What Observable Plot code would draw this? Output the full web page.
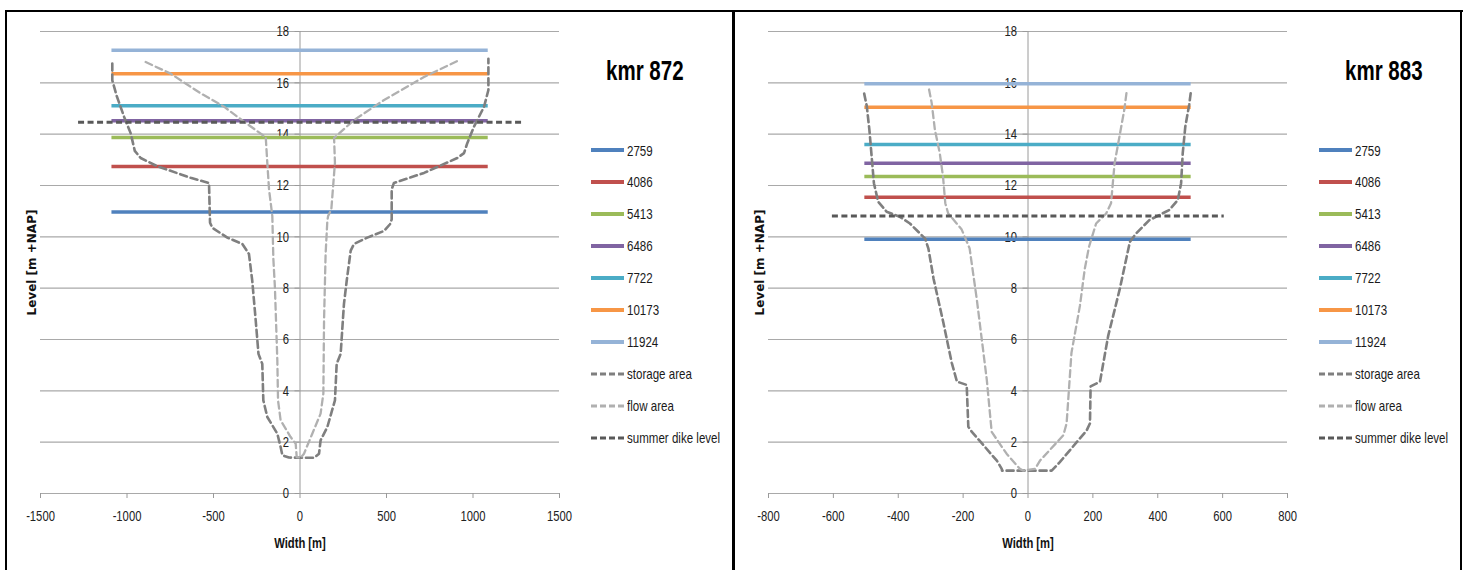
<!DOCTYPE html>
<html><head><meta charset="utf-8">
<script src="https://cdn.jsdelivr.net/npm/d3@7"></script>
<script src="https://cdn.jsdelivr.net/npm/@observablehq/plot@0.6"></script>
<style>
html,body{margin:0;padding:0;background:#fff;}
#root{position:relative;width:1468px;height:570px;overflow:hidden;background:#fff;}
.panel{position:absolute;top:0;}
.frame{position:absolute;background:#000;}
.title{position:absolute;font-family:"Liberation Sans",Arial,sans-serif;font-weight:bold;font-size:27px;line-height:27px;color:#000;white-space:nowrap;transform:scaleX(0.76);transform-origin:0 50%;}
.item{position:absolute;height:20px;display:flex;align-items:center;white-space:nowrap;font-family:"Liberation Sans",Arial,sans-serif;font-size:15px;color:#1a1a1a;}
.item svg{margin-right:3px;flex:none;}
.item span{display:inline-block;transform:scaleX(0.77);transform-origin:0 50%;}
</style></head><body><div id="root"></div>
<script>
// ---------- data ----------
const seriesNames = ["2759", "4086", "5413", "6486", "7722", "10173", "11924"];
const extraNames = ["storage area", "flow area", "summer dike level"];

const yTicks = [0, 2, 4, 6, 8, 10, 12, 14, 16, 18];
const xTicks872 = [-1500, -1000, -500, 0, 500, 1000, 1500];
const xTicks883 = [-800, -600, -400, -200, 0, 200, 400, 600, 800];

// kmr 872
const levels872 = [10.97, 12.74, 13.87, 14.52, 15.11, 16.35, 17.27];
const levelSpan872 = [-1087, 1088];
const dike872 = 14.46;
const dikeSpan872 = [-1280, 1290];
const storage872 = [
  [-1085, 16.75], [-1085, 16.1], [-1060, 15.5], [-1017, 14.68], [-979, 14.04], [-955, 13.35],
  [-921, 13.07], [-825, 12.75], [-632, 12.3], [-526, 12.1], [-520, 10.55], [-507, 10.35],
  [-420, 9.97], [-333, 9.72], [-295, 9.33], [-276, 8.29], [-256, 6.74], [-240, 5.44],
  [-218, 5.05], [-212, 3.63], [-189, 2.98], [-131, 2.33], [-112, 1.81], [-102, 1.49],
  [-64, 1.4], [81, 1.39], [110, 1.55], [119, 2.07], [158, 2.59], [202, 3.63], [212, 5.05],
  [235, 5.44], [254, 7.38], [270, 8.29], [293, 9.46], [312, 9.72], [389, 9.97], [486, 10.23],
  [520, 10.49], [530, 10.68], [530, 11.85], [543, 12.1], [717, 12.49], [909, 13.07],
  [948, 13.26], [967, 13.65], [1006, 14.3], [1064, 15.07], [1089, 15.72], [1089, 16.94]
];
const flow872 = [
  [-892, 16.81], [-748, 16.36], [-574, 15.59], [-439, 15.07], [-324, 14.49], [-198, 13.88],
  [-189, 12.88], [-179, 11.85], [-160, 10.81], [-154, 9.14], [-145, 8.03], [-131, 5.18],
  [-127, 3.63], [-112, 2.85], [-54, 2.2], [-25, 1.94], [-19, 1.42], [4, 1.39], [23, 1.55],
  [71, 2.33], [119, 3.11], [135, 3.89], [139, 6.74], [148, 9.33], [158, 10.62], [162, 10.8],
  [181, 11.07], [202, 12.88], [197, 13.85], [312, 14.55], [486, 15.33], [717, 16.23], [925, 16.9]
];

// kmr 883
const levels883 = [9.91, 11.54, 12.35, 12.87, 13.6, 15.05, 15.96];
const levelSpan883 = [-503, 503];
const dike883 = 10.81;
const dikeSpan883 = [-603, 605];
const storage883 = [
  [-505, 15.58], [-497, 15.09], [-489, 14.17], [-482, 13.13], [-475, 12.09], [-462, 11.37],
  [-436, 10.98], [-395, 10.78], [-364, 10.52], [-333, 10.13], [-317, 9.93], [-307, 9.54],
  [-291, 8.36], [-261, 6.66], [-235, 5.09], [-219, 4.36], [-189, 4.23], [-184, 2.6],
  [-173, 2.4], [-96, 1.28], [-81, 0.96], [-80, 0.89], [73, 0.89], [98, 1.22], [181, 2.46],
  [191, 2.73], [193, 4.17], [222, 4.36], [247, 6.13], [283, 7.97], [314, 9.8], [333, 10.13],
  [374, 10.65], [405, 10.85], [436, 11.05], [462, 11.44], [472, 12.09], [477, 13.26],
  [485, 14.3], [497, 15.15], [503, 15.74]
];
const flow883 = [
  [-305, 15.74], [-297, 15.22], [-287, 14.17], [-272, 13.26], [-262, 12.35], [-255, 11.31],
  [-246, 10.91], [-205, 10.3], [-180, 9.55], [-158, 7.58], [-127, 4.43], [-112, 2.4],
  [-66, 1.55], [-25, 0.96], [-14, 0.89], [22, 0.96], [37, 1.28], [109, 2.27], [119, 2.73],
  [134, 5.48], [160, 7.31], [175, 8.75], [188, 9.61], [210, 10.52], [241, 10.91],
  [256, 11.31], [267, 12.87], [282, 13.91], [297, 14.96], [305, 15.74]
];

// ---------- styles ----------
const seriesColors = ["#4F81BD", "#C0504D", "#9BBB59", "#8064A2", "#4BACC6", "#F79646", "#95B3D7"];
const storageColor = "#7f7f7f", flowColor = "#b0b0b0", dikeColor = "#595959";
const gridColor = "#a9a9a9";
const textFont = "'Liberation Sans',Arial,sans-serif";

const root = document.getElementById("root");

// narrow the (non-rotated) svg text to mimic the condensed original font
function condense(svg, k) {
  d3.select(svg).selectAll("text").each(function () {
    const t = this.getAttribute("transform") || "";
    if (!t.includes("rotate")) this.setAttribute("transform", (t + ` scale(${k},1)`).trim());
  });
}

function panel({left, xTicks, levels, levelSpan, dike, dikeSpan, storage, flow, title, titleX}) {
  const xd = [xTicks[0], xTicks[xTicks.length - 1]];
  const chart = Plot.plot({
    width: 733, height: 570,
    marginLeft: 40, marginRight: 174, marginTop: 31, marginBottom: 77,
    x: {domain: xd, axis: null},
    y: {domain: [0, 18], axis: null},
    style: {fontFamily: textFont, fontSize: "15px", color: "#222", background: "transparent"},
    marks: [
      Plot.ruleY(yTicks, {stroke: gridColor, strokeWidth: 1.2}),
      Plot.ruleX([0], {stroke: "#9a9a9a", strokeWidth: 1}),
      Plot.ruleY(yTicks, {x1: 0, x2: 0, insetLeft: -5, stroke: "#9a9a9a", strokeWidth: 1}),
      Plot.ruleX(xTicks, {y1: 0, y2: 0, insetBottom: -5, stroke: "#9a9a9a", strokeWidth: 1}),
      Plot.text(yTicks, {x: 0, y: d => d, text: d => String(d), dx: -11, textAnchor: "end", lineAnchor: "middle", fill: "#222"}),
      Plot.text(xTicks, {x: d => d, frameAnchor: "bottom", dy: 23, lineAnchor: "middle", textAnchor: "middle", text: d => String(d), fill: "#222"}),
      Plot.text(["Width [m]"], {frameAnchor: "bottom", dy: 50, lineAnchor: "middle", textAnchor: "middle", fontWeight: "bold", fontSize: 15, fill: "#111"}),
      Plot.text(["Level [m +NAP]"], {frameAnchor: "left", dx: -8, rotate: -90, textAnchor: "middle", lineAnchor: "middle", fontFamily: "DejaVu Sans", fontWeight: "bold", fontSize: 12, fill: "#111"}),
      ...levels.map((lv, i) => Plot.ruleY([lv], {x1: levelSpan[0], x2: levelSpan[1], stroke: seriesColors[i], strokeWidth: 3.5})),
      Plot.line(storage, {x: d => d[0], y: d => d[1], stroke: storageColor, strokeWidth: 2.6, strokeDasharray: "7,4", curve: "linear"}),
      Plot.line(flow, {x: d => d[0], y: d => d[1], stroke: flowColor, strokeWidth: 2.3, strokeDasharray: "7,4", curve: "linear"}),
      Plot.ruleY([dike], {x1: dikeSpan[0], x2: dikeSpan[1], stroke: dikeColor, strokeWidth: 3, strokeDasharray: "6,3.5"})
    ]
  });
  condense(chart, 0.75);
  const wrap = document.createElement("div");
  wrap.className = "panel";
  wrap.style.left = left + "px";
  wrap.appendChild(chart);
  root.appendChild(wrap);

  const t = document.createElement("div");
  t.className = "title";
  t.textContent = title;
  t.style.left = titleX + "px";
  t.style.top = "58px";
  root.appendChild(t);

  const names = [...seriesNames, ...extraNames];
  const colors = [...seriesColors, storageColor, flowColor, dikeColor];
  names.forEach((name, i) => {
    const it = document.createElement("div");
    it.className = "item";
    it.style.left = (left + 591) + "px";
    it.style.top = (150 + i * 31.95 - 10) + "px";
    const dashed = i >= seriesNames.length;
    const svg = d3.create("svg").attr("width", 33).attr("height", 6);
    svg.append("line").attr("x1", 0).attr("x2", 33).attr("y1", 3).attr("y2", 3)
      .attr("stroke", colors[i]).attr("stroke-width", dashed ? 3 : 4)
      .attr("stroke-dasharray", dashed ? "6,3" : null);
    it.appendChild(svg.node());
    const span = document.createElement("span");
    span.textContent = name;
    it.appendChild(span);
    root.appendChild(it);
  });
}

panel({left: 0, xTicks: xTicks872, levels: levels872, levelSpan: levelSpan872, dike: dike872, dikeSpan: dikeSpan872, storage: storage872, flow: flow872, title: "kmr 872", titleX: 606});
panel({left: 728, xTicks: xTicks883, levels: levels883, levelSpan: levelSpan883, dike: dike883, dikeSpan: dikeSpan883, storage: storage883, flow: flow883, title: "kmr 883", titleX: 1345});

// panel frames
[[5, 10, 1458, 2], [5, 10, 2, 560], [732, 10, 3, 560], [1460, 10, 2, 560]].forEach(([x, y, w, h]) => {
  const f = document.createElement("div");
  f.className = "frame";
  Object.assign(f.style, {left: x + "px", top: y + "px", width: w + "px", height: h + "px"});
  root.appendChild(f);
});
</script></body></html>
